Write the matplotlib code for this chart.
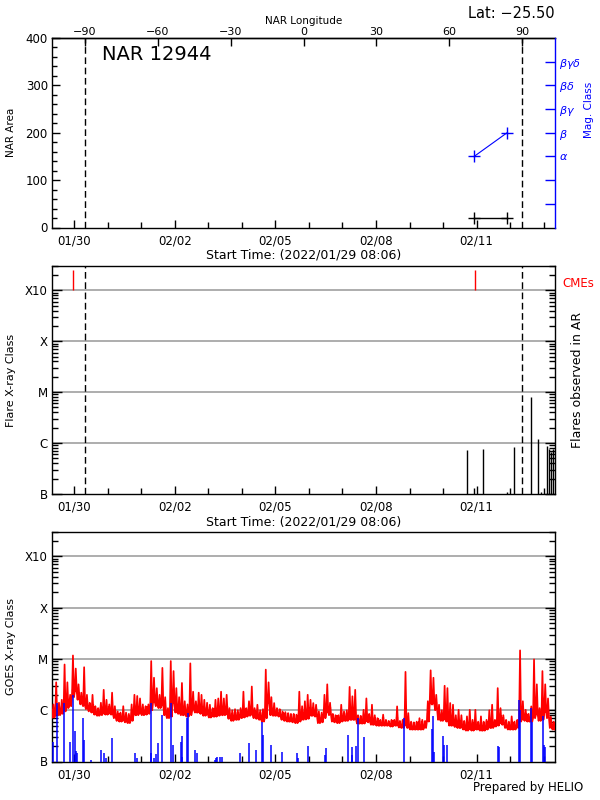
import numpy as np
import matplotlib
matplotlib.use("Agg")
import matplotlib.pyplot as plt
import matplotlib.dates as mdates
from matplotlib.ticker import FixedLocator, NullFormatter, MultipleLocator, LogLocator
import datetime as dt

plt.rcParams['font.family'] = ['DejaVu Sans']
plt.rcParams['axes.linewidth'] = 1.0

# ---------------- data ----------------
start_time = "2022-01-29 08:06"
n_days = 15
limb_times = ["2022-01-30 07:42", "2022-02-12 08:30"]   # -90 / +90 longitude
date_ticks = ["2022-01-30", "2022-02-02", "2022-02-05", "2022-02-08", "2022-02-11"]
lon_ticks = [-90, -60, -30, 0, 30, 60, 90]
nar_number = "12944"
nar_lat = "-25.50"

nar_times = ["2022-02-10 22:12", "2022-02-11 21:48"]
nar_area = [20, 20]
nar_mag = ["alpha", "beta"]
mag_classes = ["", "", "alpha", "beta", "beta-gamma", "beta-delta", "beta-gamma-delta"]
mag_labels = ["", "", r"$\alpha$", r"$\beta$", r"$\beta\gamma$", r"$\beta\delta$", r"$\beta\gamma\delta$"]

class_names = ["B", "C", "M", "X", "X10"]
class_flux = [1e-7, 1e-6, 1e-5, 1e-4, 1e-3]

cme_times = ["2022-01-29 23:18", "2022-02-10 23:12"]

flare_times = ["2022-02-10 16:54", "2022-02-10 22:24", "2022-02-11 04:48", "2022-02-11 22:00",
               "2022-02-12 03:00", "2022-02-12 15:12", "2022-02-12 20:12", "2022-02-12 22:06",
               "2022-02-13 02:06", "2022-02-13 03:54", "2022-02-13 05:24", "2022-02-13 06:42"]
flare_peak = [7.4e-7, 1.3e-7, 7.7e-7, 1.1e-7, 8.5e-7, 7.9e-6, 1.21e-6, 1.1e-7,
              8.9e-7, 7.5e-7, 6.8e-7, 7.5e-7]

# GOES long channel, 2-hour bins: max and min (units of 1e-6 W/m^2)
goes_step_hours = 2
goes_hi = [1.3, 3.5, 1.4, 1.6, 7.8, 3.5, 2.0, 11.7, 6.5, 3.2,
           2.2, 6.9, 2.0, 1.4, 2.0, 1.2, 1.1, 1.4, 2.5, 1.6,
           1.3, 2.2, 1.2, 0.95, 0.9, 1.2, 0.9, 0.85, 1.3, 2.0,
           1.9, 1.7, 1.3, 1.2, 1.3, 9.1, 4.3, 2.7, 2.0, 6.7,
           1.8, 1.1, 9.1, 5.8, 2.7, 1.8, 3.4, 1.5, 1.3, 8.2,
           2.3, 1.5, 2.2, 2.0, 1.6, 1.4, 1.28, 1.1, 1.6, 1.7,
           2.3, 1.7, 2.0, 1.1, 1.0, 1.05, 1.0, 1.1, 2.3, 1.1,
           1.5, 2.9, 1.1, 1.28, 1.0, 1.05, 6.2, 3.5, 1.8, 1.38,
           1.1, 1.05, 0.95, 0.92, 0.88, 0.85, 0.85, 0.82, 2.3, 1.2,
           1.5, 2.0, 1.6, 1.38, 1.28, 0.95, 0.9, 2.0, 3.2, 1.4,
           0.85, 0.8, 0.8, 1.28, 0.95, 1.0, 2.85, 1.87, 2.5, 0.8,
           0.78, 1.02, 1.7, 0.85, 1.28, 0.8, 0.7, 0.65, 0.82, 0.65,
           0.62, 0.65, 0.65, 1.19, 0.62, 0.65, 5.6, 0.88, 0.6, 0.58,
           0.6, 0.7, 0.65, 0.62, 1.5, 6.0, 4.3, 2.0, 1.28, 1.0,
           3.0, 2.7, 1.38, 1.28, 0.8, 1.02, 0.8, 0.62, 0.76, 1.02,
           0.65, 1.02, 0.6, 0.76, 0.6, 0.65, 1.0, 1.28, 0.65, 2.7,
           1.1, 0.8, 0.65, 0.6, 0.76, 0.6, 0.65, 14.7, 1.5, 1.02,
           0.85, 1.19, 9.8, 3.2, 1.1, 5.8, 3.2, 1.7, 0.75, 0.6]
goes_lo = [0.72, 0.8, 0.8, 0.85, 0.95, 1.1, 1.2, 1.8, 2.3, 1.6,
           1.3, 1.2, 1.05, 0.95, 0.9, 0.82, 0.78, 0.8, 0.85, 0.82,
           0.85, 0.82, 0.7, 0.62, 0.6, 0.62, 0.58, 0.56, 0.62, 0.8,
           0.8, 0.85, 0.8, 0.82, 0.85, 1.0, 1.4, 1.2, 1.1, 1.2,
           0.8, 0.7, 0.75, 1.3, 0.9, 0.85, 0.8, 0.8, 0.75, 0.8,
           1.0, 0.9, 0.9, 0.85, 0.78, 0.8, 0.72, 0.75, 0.75, 0.78,
           0.8, 0.8, 0.82, 0.68, 0.62, 0.65, 0.65, 0.7, 0.72, 0.75,
           0.78, 0.8, 0.7, 0.68, 0.65, 0.6, 0.7, 1.3, 0.8, 0.78,
           0.78, 0.75, 0.65, 0.62, 0.6, 0.6, 0.58, 0.56, 0.6, 0.65,
           0.66, 0.68, 0.78, 0.78, 0.75, 0.56, 0.58, 0.7, 0.9, 0.8,
           0.6, 0.58, 0.56, 0.6, 0.62, 0.62, 0.65, 0.65, 0.65, 0.55,
           0.55, 0.55, 0.6, 0.58, 0.52, 0.52, 0.5, 0.5, 0.5, 0.5,
           0.5, 0.48, 0.5, 0.5, 0.46, 0.45, 0.5, 0.45, 0.42, 0.42,
           0.42, 0.42, 0.42, 0.45, 0.6, 1.3, 1.3, 1.0, 0.65, 0.62,
           0.65, 0.6, 0.5, 0.5, 0.47, 0.45, 0.45, 0.42, 0.4, 0.42,
           0.4, 0.42, 0.42, 0.4, 0.4, 0.42, 0.45, 0.45, 0.48, 0.5,
           0.55, 0.52, 0.45, 0.42, 0.42, 0.42, 0.45, 0.6, 0.65, 0.62,
           0.6, 0.6, 0.7, 0.8, 0.62, 0.65, 0.9, 0.7, 0.45, 0.42]

# GOES short channel excursions above B1: hours after start, peak (1e-6 W/m^2)
short_hours = [0.7, 3.6, 8.4, 13.1, 14.8, 16.2, 17.2, 17.9, 22.4, 23.1,
               28.1, 35.3, 37.4, 38.9, 43.2, 59.6, 61.1, 70.6, 71.1, 72.8,
               74.2, 75.9, 78.7, 85.4, 86.6, 92.0, 92.7, 93.1, 96.8, 97.6,
               102.6, 103.8, 116.5, 117.2, 118.3, 120.0, 121.9, 134.8, 141.0, 146.2,
               150.3, 151.0, 157.0, 164.8, 175.4, 176.1, 183.5, 195.4, 196.3, 212.1,
               214.5, 215.0, 217.8, 219.3, 223.5, 252.0, 272.2, 272.9, 273.6, 280.1,
               280.8, 283.0, 319.2, 320.0, 334.3, 335.0, 342.7, 343.4, 351.5, 352.2,
               352.9]
short_peak = [0.245, 1.38, 1.38, 0.245, 2.0, 0.385, 0.157, 0.145, 0.70, 0.26,
              0.107, 0.168, 0.145, 0.115, 0.285, 0.145, 0.115, 0.145, 1.38, 0.115,
              0.138, 0.227, 0.82, 1.38, 0.21, 0.245, 0.32, 0.125, 0.70, 0.88,
              0.168, 0.145, 0.107, 0.115, 0.125, 0.125, 0.125, 0.145, 0.227, 0.165,
              0.60, 0.33, 0.21, 0.15, 0.145, 0.115, 0.2, 0.135, 0.18, 0.33,
              0.135, 0.195, 0.2, 0.70, 0.30, 0.70, 0.43, 0.76, 0.15, 0.32,
              0.21, 0.21, 0.2, 0.19, 1.6, 1.02, 1.1, 0.6, 0.78, 0.21,
              0.195]

# ---------------- helpers ----------------
def to_num(s):
    return mdates.date2num(dt.datetime.strptime(s, "%Y-%m-%d %H:%M"))

def d_num(s):
    return mdates.date2num(dt.datetime.strptime(s, "%Y-%m-%d"))

t_start = to_num(start_time)
t_end = t_start + n_days
limb_num = [to_num(s) for s in limb_times]
start_label = "Start Time: (" + dt.datetime.strptime(start_time, "%Y-%m-%d %H:%M").strftime("%Y/%m/%d %H:%M") + ")"

fig = plt.figure(figsize=(6, 8), dpi=100)
W, H = 600.0, 800.0

def axes_px(x0, y0, x1, y1):
    return fig.add_axes([x0 / W, 1 - y1 / H, (x1 - x0) / W, (y1 - y0) / H])

TICK_FS = 8.5

def style_time_axis(ax, labels=True):
    ax.set_xlim(t_start, t_end)
    ax.xaxis.set_major_locator(FixedLocator([d_num(s) for s in date_ticks]))
    ax.xaxis.set_minor_locator(mdates.DayLocator())
    ax.xaxis.set_major_formatter(mdates.DateFormatter("%m/%d"))
    ax.tick_params(axis='x', which='major', direction='in', length=6, width=1,
                   labelsize=TICK_FS, pad=5, top=False)
    ax.tick_params(axis='x', which='minor', direction='in', length=4, width=1, top=False)
    if not labels:
        ax.set_xticklabels([])

def style_class_axis(ax):
    ax.set_yscale('log')
    ax.set_ylim(1e-7, 3e-3)
    ax.yaxis.set_major_locator(FixedLocator(class_flux))
    ax.yaxis.set_major_formatter(matplotlib.ticker.FixedFormatter(class_names))
    ax.yaxis.set_minor_locator(LogLocator(base=10, subs=np.arange(2, 10), numticks=20))
    ax.yaxis.set_minor_formatter(NullFormatter())
    ax.tick_params(axis='y', which='major', direction='in', length=7, width=1,
                   labelsize=TICK_FS, left=True, right=True, pad=3)
    ax.tick_params(axis='y', which='minor', direction='in', length=4, width=1,
                   left=True, right=True)
    for f in class_flux[1:]:
        ax.axhline(f, color='#a0a0a0', lw=1.2, zorder=0.5)

# ---------------- panel 1: NAR area / mag class ----------------
ax1 = axes_px(52, 38, 555, 227.5)
style_time_axis(ax1)
ax1.set_ylim(0, 400)
ax1.yaxis.set_major_locator(MultipleLocator(100))
ax1.yaxis.set_minor_locator(MultipleLocator(20))
ax1.tick_params(axis='y', which='major', direction='in', length=6, width=1,
                labelsize=TICK_FS, right=False, pad=3)
ax1.tick_params(axis='y', which='minor', direction='in', length=3.5, width=1, right=False)
ax1.spines['right'].set_visible(False)
ax1.set_ylabel("NAR Area", fontsize=7.5)
ax1.yaxis.set_label_coords(-0.072, 0.5)
ax1.set_xlabel(start_label, fontsize=9, labelpad=1)

for t in limb_num:
    ax1.axvline(t, color='black', lw=1.0, ls=(0, (4.8, 2.6)))

nar_t = [to_num(s) for s in nar_times]
ax1.plot(nar_t, nar_area, color='black', lw=1.0, marker='+', ms=9, mew=1.0)

ax1r = ax1.twinx()
ax1r.set_ylim(0, 8)
ax1r.yaxis.set_major_locator(FixedLocator(np.arange(1, 8)))
ax1r.set_yticklabels(mag_labels, fontsize=8)
ax1r.tick_params(axis='y', direction='in', length=7, width=1, colors='blue', pad=3)
for sp in ['left', 'top', 'bottom']:
    ax1r.spines[sp].set_visible(False)
ax1r.spines['right'].set_color('blue')
mag_pos = [mag_classes.index(m) + 1 for m in nar_mag]
ax1r.plot(nar_t, mag_pos, color='blue', lw=0.8, marker='+', ms=9, mew=1.0)
ax1r.set_ylabel("Mag. Class", fontsize=7.5, color='blue')
ax1r.yaxis.set_label_coords(1.057, 0.62)

def fwd(t):
    return -90 + (np.asarray(t) - limb_num[0]) * 180.0 / (limb_num[1] - limb_num[0])

def inv(lon):
    return limb_num[0] + (np.asarray(lon) + 90) * (limb_num[1] - limb_num[0]) / 180.0

sec = ax1.secondary_xaxis('top', functions=(fwd, inv))
sec.set_xticks(lon_ticks)
sec.tick_params(direction='in', length=6, width=1, labelsize=8, pad=1)
sec.set_xlabel("NAR Longitude", fontsize=7.5, labelpad=2)

ax1.text(0.10, 0.965, "NAR " + nar_number, transform=ax1.transAxes, fontsize=14,
         ha='left', va='top')
fig.text(555 / W, 1 - 13 / H, "Lat: " + nar_lat.replace("-", "\u2212"), fontsize=10.5,
         ha='right', va='center')

# ---------------- panel 2: flares / CMEs ----------------
ax2 = axes_px(52, 266, 555, 494)
style_time_axis(ax2)
style_class_axis(ax2)
ax2.set_ylabel("Flare X-ray Class", fontsize=8)
ax2.yaxis.set_label_coords(-0.072, 0.5)
ax2.set_xlabel(start_label, fontsize=9, labelpad=1)
for t in limb_num:
    ax2.axvline(t, color='black', lw=1.0, ls=(0, (4.8, 2.6)), zorder=2)
ax2.vlines([to_num(s) for s in flare_times], 1e-7, flare_peak, color='black', lw=1.0, zorder=3)
ax2.vlines([to_num(s) for s in cme_times], 1e-3, 2.45e-3, color='red', lw=1.0, zorder=3)
ax2.text(1.014, 0.925, "CMEs", transform=ax2.transAxes, color='red', fontsize=8.5,
         ha='left', va='center')
ax2.text(1.045, 0.5, "Flares observed in AR", transform=ax2.transAxes, rotation=90,
         fontsize=9, ha='center', va='center')

# ---------------- panel 3: GOES ----------------
ax3 = axes_px(52, 532, 555, 761.5)
style_time_axis(ax3)
style_class_axis(ax3)
ax3.set_ylabel("GOES X-ray Class", fontsize=8)
ax3.yaxis.set_label_coords(-0.072, 0.5)

step = goes_step_hours / 24.0
t_bins = t_start + np.arange(len(goes_hi)) * step
hi = np.array(goes_hi) * 1e-6
lo = np.array(goes_lo) * 1e-6
xs = np.column_stack([t_bins + 0.15 * step, t_bins + 0.5 * step, t_bins + 0.85 * step]).ravel()
ys = np.column_stack([lo, hi, lo]).ravel()
ax3.plot(xs, ys, color='red', lw=1.25, zorder=3)
band_top = np.minimum(hi, lo * 1.45)
ax3.vlines(t_bins + 0.5 * step, lo, band_top, color='red', lw=1.6, zorder=3)

sh_t = t_start + np.array(short_hours) / 24.0
ax3.vlines(sh_t, 1e-7, np.array(short_peak) * 1e-6, color='blue', lw=1.1, zorder=4)

fig.text(583 / W, 1 - 787 / H, "Prepared by HELIO", fontsize=8.5, ha='right', va='center')

fig.savefig("out.png", dpi=100)
